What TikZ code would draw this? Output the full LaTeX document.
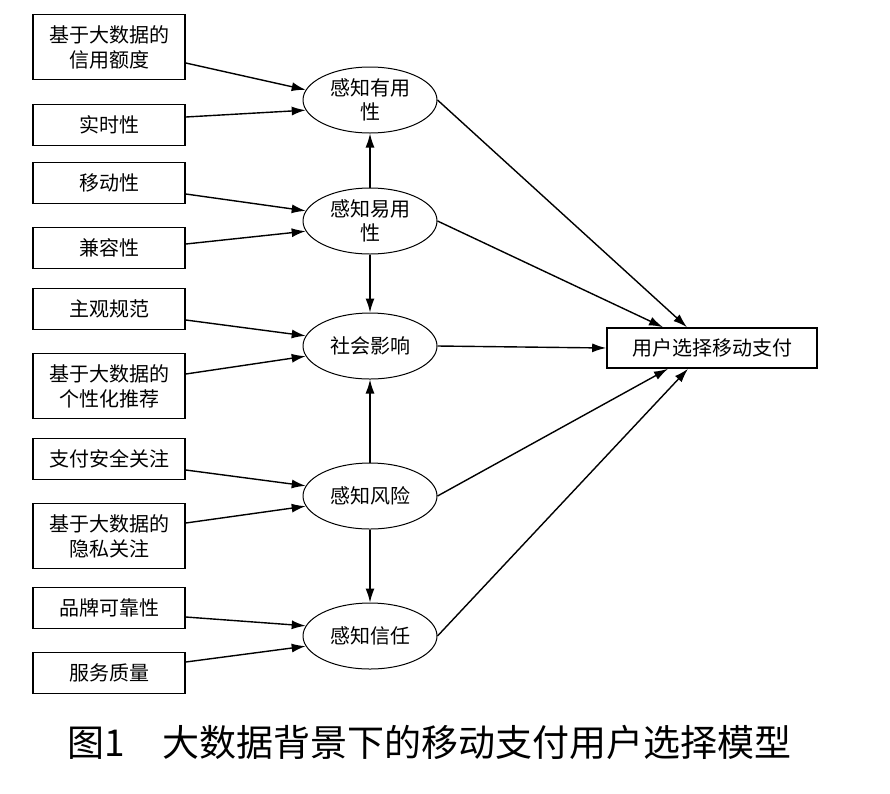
\documentclass[tikz,border=0pt]{standalone}
\usepackage{fontspec}
\usepackage{tikz}
\usetikzlibrary{shapes.geometric,arrows.meta}
\setmainfont{Noto Sans CJK SC}

\begin{document}
\begin{tikzpicture}[x=1pt,y=-1pt,
    factor/.style={rectangle,draw,line width=1.6pt,minimum width=152pt,minimum height=41pt,inner sep=0pt,align=center,font=\fontsize{20}{25}\selectfont},
    latent/.style={ellipse,draw,line width=1pt,minimum width=134pt,minimum height=66pt,inner sep=0pt,align=center,font=\fontsize{20}{24}\selectfont},
    link/.style={-{Latex[length=14pt,width=9pt]},line width=1.4pt}]
    \useasboundingbox (0,0) rectangle (890,793);

    \node [factor,minimum height=65pt] (credit) at (109,47) {基于大数据的\\信用额度};
    \node [factor] (realtime) at (109,125) {实时性};
    \node [factor] (mobile) at (109,183) {移动性};
    \node [factor] (compat) at (109,248) {兼容性};
    \node [factor] (norm) at (109,309) {主观规范};
    \node [factor,minimum height=65pt] (recom) at (109,386) {基于大数据的\\个性化推荐};
    \node [factor] (safety) at (109,459) {支付安全关注};
    \node [factor,minimum height=65pt] (privacy) at (109,536) {基于大数据的\\隐私关注};
    \node [factor] (brand) at (109,608) {品牌可靠性};
    \node [factor] (service) at (109,673) {服务质量};

    \node [latent] (useful) at (370,100) {感知有用\\性};
    \node [latent] (easy) at (370,221) {感知易用\\性};
    \node [latent] (social) at (370,346) {社会影响};
    \node [latent] (risk) at (370,496) {感知风险};
    \node [latent] (trust) at (370,636) {感知信任};

    \node [factor,minimum width=210pt,minimum height=40pt] (choice) at (712,348) {用户选择移动支付};

    \draw [link] ([yshift=-16pt]credit.east) -- (useful.171);
    \draw [link] ([yshift=8pt]realtime.east) -- (useful.189);
    \draw [link] ([yshift=-11pt]mobile.east) -- (easy.171);
    \draw [link] ([yshift=4pt]compat.east) -- (easy.189);
    \draw [link] ([yshift=-11pt]norm.east) -- (social.171);
    \draw [link] ([yshift=12pt]recom.east) -- (social.189);
    \draw [link] ([yshift=-11pt]safety.east) -- (risk.171);
    \draw [link] ([yshift=13pt]privacy.east) -- (risk.189);
    \draw [link] ([yshift=-9pt]brand.east) -- (trust.171);
    \draw [link] ([yshift=11pt]service.east) -- (trust.189);

    \draw [link] (easy.north) -- (useful.south);
    \draw [link] (easy.south) -- (social.north);
    \draw [link] (risk.north) -- (social.south);
    \draw [link] (risk.south) -- (trust.north);

    \draw [link] (useful.east) -- ([xshift=-25pt]choice.north);
    \draw [link] (easy.east) -- ([xshift=-49pt]choice.north);
    \draw [link] (social.east) -- (choice.west);
    \draw [link] (risk.east) -- ([xshift=-44pt]choice.south);
    \draw [link] (trust.east) -- ([xshift=-24pt]choice.south);

    \node [anchor=west,font=\fontsize{37}{42}\selectfont] (caption) at (64,742) {图1\quad 大数据背景下的移动支付用户选择模型};
\end{tikzpicture}
\end{document}
